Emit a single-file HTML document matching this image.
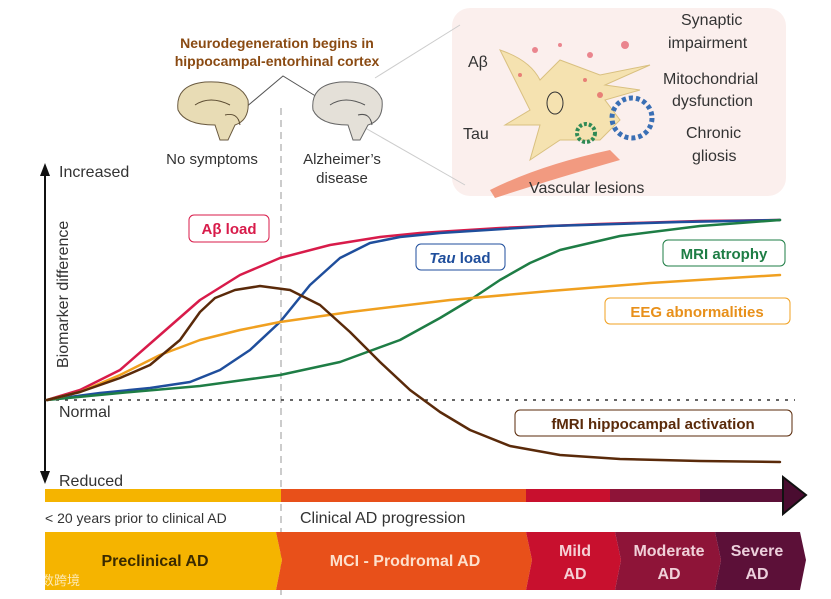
<!DOCTYPE html>
<html><head><meta charset="utf-8"><style>
body{margin:0;background:#fff;width:831px;height:599px;overflow:hidden}
svg{display:block}
text{font-family:"Liberation Sans","Noto Sans CJK SC",sans-serif}
</style></head><body>
<svg width="831" height="599" viewBox="0 0 831 599" xmlns="http://www.w3.org/2000/svg">
<!-- inset -->
<rect x="452" y="8" width="334" height="188" rx="18" fill="#fbefed"/>
<line x1="375" y1="78" x2="460" y2="25" stroke="#ccc" stroke-width="1"/>
<line x1="360" y1="125" x2="465" y2="185" stroke="#ccc" stroke-width="1"/>
<path d="M490 190 Q540 165 610 150 L620 160 Q550 180 495 198Z" fill="#f29a80"/>
<path d="M500 50 Q530 60 540 80 L560 60 L600 75 L650 65 L605 85 L640 90 L605 100 L620 120 L600 140 L560 140 L530 160 L540 125 L505 125 L530 110 Z" fill="#f5e2b0" stroke="#d9c080"/>
<ellipse cx="555" cy="103" rx="8" ry="11" fill="none" stroke="#333"/>
<g fill="#e04050" opacity="0.6"><circle cx="535" cy="50" r="3"/><circle cx="560" cy="45" r="2"/><circle cx="590" cy="55" r="3"/><circle cx="625" cy="45" r="4"/><circle cx="520" cy="75" r="2"/><circle cx="600" cy="95" r="3"/><circle cx="585" cy="80" r="2"/></g>
<circle cx="632" cy="118" r="20" fill="none" stroke="#3a6fb5" stroke-width="5" stroke-dasharray="4 3"/>
<circle cx="586" cy="133" r="9" fill="none" stroke="#2f8a55" stroke-width="4" stroke-dasharray="3 2"/>
<text x="468" y="67" font-size="16" fill="#333">Aβ</text>
<text x="463" y="139" font-size="16" fill="#333">Tau</text>
<text x="681" y="25" font-size="16" fill="#333">Synaptic</text>
<text x="668" y="48" font-size="16" fill="#333">impairment</text>
<text x="663" y="84" font-size="16" fill="#333">Mitochondrial</text>
<text x="672" y="106" font-size="16" fill="#333">dysfunction</text>
<text x="686" y="138" font-size="16" fill="#333">Chronic</text>
<text x="692" y="161" font-size="16" fill="#333">gliosis</text>
<text x="529" y="193" font-size="16" fill="#333">Vascular lesions</text>
<!-- header -->
<text x="277" y="48" font-size="14" font-weight="bold" fill="#8a4a12" text-anchor="middle">Neurodegeneration begins in</text>
<text x="277" y="66" font-size="14" font-weight="bold" fill="#8a4a12" text-anchor="middle">hippocampal-entorhinal cortex</text>
<polyline points="245,108 283,76 322,100" fill="none" stroke="#555"/>
<path d="M178 110 Q175 85 205 82 Q240 80 248 100 Q250 120 235 125 L228 140 L220 140 L215 125 Q185 125 178 110Z" fill="#e8dcb5" stroke="#6a5a40"/>
<path d="M195 105 Q210 95 230 105 M225 115 Q238 112 240 125" fill="none" stroke="#5a4a30"/>
<path d="M313 110 Q310 85 340 82 Q375 80 382 100 Q384 120 368 125 L360 140 L353 140 L348 125 Q320 125 313 110Z" fill="#e4e0d8" stroke="#666"/>
<path d="M330 105 Q345 95 365 105 M358 115 Q370 112 372 125" fill="none" stroke="#555"/>
<text x="212" y="164" font-size="15" fill="#333" text-anchor="middle">No symptoms</text>
<text x="342" y="164" font-size="15" fill="#333" text-anchor="middle">Alzheimer’s</text>
<text x="342" y="183" font-size="15" fill="#333" text-anchor="middle">disease</text>
<!-- axes -->
<line x1="281" y1="108" x2="281" y2="599" stroke="#999" stroke-dasharray="7 5"/>
<line x1="45" y1="172" x2="45" y2="474" stroke="#111" stroke-width="2"/>
<polygon points="45,163 40,176 50,176" fill="#111"/>
<polygon points="45,484 40,471 50,471" fill="#111"/>
<line x1="47" y1="400" x2="795" y2="400" stroke="#333" stroke-width="1.5" stroke-dasharray="3 6"/>
<text x="59" y="177" font-size="16" fill="#333">Increased</text>
<text x="59" y="417" font-size="16" fill="#333">Normal</text>
<text x="59" y="486" font-size="16" fill="#333">Reduced</text>
<text transform="translate(68,368) rotate(-90)" font-size="16" fill="#333">Biomarker difference</text>
<!-- curves -->
<g fill="none" stroke-width="2.5" stroke-linejoin="round" stroke-linecap="round">
<polyline stroke="#d81b4a" points="47,400 80,390 120,370 160,335 200,300 240,275 280,258 330,245 380,237 420,233 500,228 600,224 700,221 780,220"/>
<polyline stroke="#1f4e9c" points="47,400 100,393 150,388 190,382 220,370 250,350 280,322 310,285 340,258 370,243 400,237 440,233 550,226 680,222 780,220"/>
<polyline stroke="#1e7d45" points="47,400 120,393 200,386 280,375 340,362 400,340 440,318 470,300 500,280 530,263 560,250 620,236 700,226 780,220"/>
<polyline stroke="#f0a020" points="47,400 80,392 120,375 160,355 200,340 240,330 280,322 350,312 450,300 550,291 650,283 780,275"/>
<polyline stroke="#5a2a0a" points="47,400 80,392 120,378 150,365 180,340 200,312 215,298 235,290 260,286 290,290 320,305 350,332 380,362 410,390 440,412 470,430 510,446 560,455 620,459 700,461 780,462"/>
</g>
<!-- labels -->
<rect x="189" y="215" width="80" height="27" rx="5" fill="#fff" stroke="#d81b4a"/>
<text x="229" y="234" font-size="15" font-weight="bold" fill="#d81b4a" text-anchor="middle">Aβ load</text>
<rect x="416" y="244" width="89" height="26" rx="5" fill="#fff" stroke="#1f4e9c"/>
<text x="460" y="263" font-size="15" font-weight="bold" fill="#1f4e9c" text-anchor="middle"><tspan font-style="italic">Tau</tspan> load</text>
<rect x="663" y="240" width="122" height="26" rx="5" fill="#fff" stroke="#1e7d45"/>
<text x="724" y="259" font-size="15" font-weight="bold" fill="#1e7d45" text-anchor="middle">MRI atrophy</text>
<rect x="605" y="298" width="185" height="26" rx="5" fill="#fff" stroke="#f0a020"/>
<text x="697" y="317" font-size="15" font-weight="bold" fill="#e8901a" text-anchor="middle">EEG abnormalities</text>
<rect x="515" y="410" width="277" height="26" rx="5" fill="#fff" stroke="#5a2a0a"/>
<text x="653" y="429" font-size="15" font-weight="bold" fill="#5a2a0a" text-anchor="middle">fMRI hippocampal activation</text>
<!-- progress bar -->
<rect x="45" y="489" width="236" height="13" fill="#f5b400"/>
<rect x="281" y="489" width="245" height="13" fill="#e8501a"/>
<rect x="526" y="489" width="84" height="13" fill="#c8102e"/>
<rect x="610" y="489" width="90" height="13" fill="#8e1438"/>
<rect x="700" y="489" width="85" height="13" fill="#5c1038"/>
<polygon points="783,477 806,495 783,514" fill="#4a0c30" stroke="#111" stroke-width="2"/>
<text x="45" y="523" font-size="14" fill="#333">&lt; 20 years prior to clinical AD</text>
<text x="300" y="523" font-size="16" fill="#333">Clinical AD progression</text>
<!-- stages -->
<polygon points="45,532 276,532 282,560 276,590 45,590" fill="#f5b400"/>
<polygon points="276,532 526,532 532,560 526,590 276,590 282,560" fill="#e8501a"/>
<polygon points="526,532 615,532 621,560 615,590 526,590 532,560" fill="#c8102e"/>
<polygon points="615,532 715,532 721,560 715,590 615,590 621,560" fill="#8e1438"/>
<polygon points="715,532 800,532 806,560 800,590 715,590 721,560" fill="#5c1038"/>
<text x="155" y="566" font-size="16" font-weight="bold" fill="#3a2a00" text-anchor="middle">Preclinical AD</text>
<text x="405" y="566" font-size="16" font-weight="bold" fill="#fde0cc" text-anchor="middle">MCI - Prodromal AD</text>
<text x="575" y="556" font-size="16" font-weight="bold" fill="#f5d0d5" text-anchor="middle">Mild</text>
<text x="575" y="579" font-size="16" font-weight="bold" fill="#f5d0d5" text-anchor="middle">AD</text>
<text x="669" y="556" font-size="16" font-weight="bold" fill="#f0d0d8" text-anchor="middle">Moderate</text>
<text x="669" y="579" font-size="16" font-weight="bold" fill="#f0d0d8" text-anchor="middle">AD</text>
<text x="757" y="556" font-size="16" font-weight="bold" fill="#ecd0dc" text-anchor="middle">Severe</text>
<text x="757" y="579" font-size="16" font-weight="bold" fill="#ecd0dc" text-anchor="middle">AD</text>
<text x="28" y="585" font-size="13" fill="#fff" opacity="0.7">大数跨境</text>
</svg>
</body></html>
